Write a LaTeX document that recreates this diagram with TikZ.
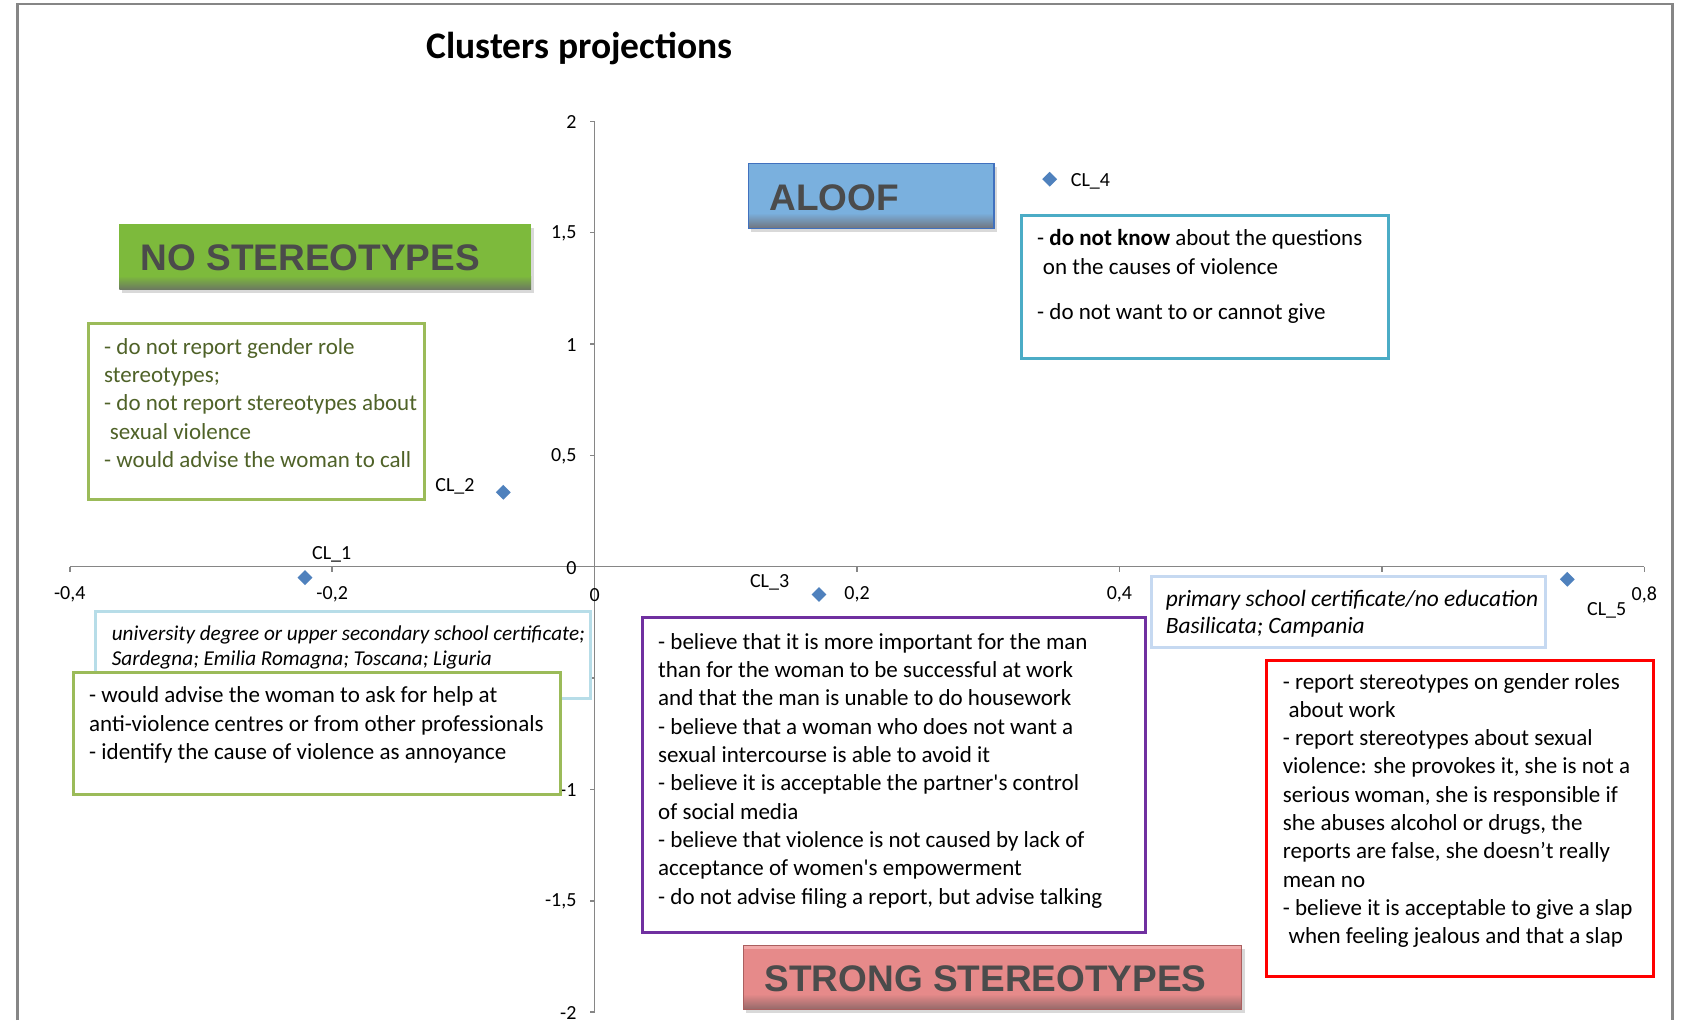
\documentclass[tikz,border=0pt]{standalone}
\usepackage{fontspec}
\setmainfont{Carlito}
\newfontfamily\bannerfont{Liberation Sans}
\usetikzlibrary{shapes.geometric}
\usetikzlibrary{shadows}

\definecolor{axisgray}{RGB}{134,134,134}
\definecolor{clblue}{RGB}{79,129,189}
\definecolor{boxgreen}{RGB}{155,187,89}
\definecolor{textolive}{RGB}{79,98,40}
\definecolor{boxpurple}{RGB}{112,48,160}
\definecolor{boxteal}{RGB}{75,172,198}
\definecolor{boxlightblue}{RGB}{183,221,232}
\definecolor{boxpaleblue}{RGB}{198,217,241}
\definecolor{bangreen}{RGB}{125,186,60}
\definecolor{bangreendark}{RGB}{108,122,96}
\definecolor{banblue}{RGB}{122,176,222}
\definecolor{banblueborder}{RGB}{65,113,190}
\definecolor{banbluedark}{RGB}{112,116,126}
\definecolor{banred}{RGB}{230,138,138}
\definecolor{banredlight}{RGB}{242,170,170}
\definecolor{banreddark}{RGB}{150,106,106}
\definecolor{banredborder}{RGB}{170,95,95}
\definecolor{bantext}{RGB}{75,75,75}

\begin{document}
\begin{tikzpicture}[x=1pt,y=-1pt,
    axisline/.style={axisgray, line width=1.5pt},
    ticklabel/.style={inner sep=0pt, font=\fontsize{20}{24}\selectfont},
    clpoint/.style={diamond, fill=clblue, inner sep=0pt, minimum size=15pt},
    cllabel/.style={inner sep=0pt, font=\fontsize{20}{24}\selectfont},
    notebox/.style={fill=white, line width=3pt},
    notetext/.style={anchor=north west, inner sep=0pt, align=left, font=\fontsize{23}{28.3}\selectfont},
    placetext/.style={anchor=north west, inner sep=0pt, align=left, font=\itshape\fontsize{21.2}{24.7}\selectfont},
    bannerbody/.style={drop shadow={shadow xshift=3pt, shadow yshift=-4pt, opacity=0.3}},
    bannertext/.style={anchor=base west, inner sep=0pt, text=bantext, font=\bannerfont\bfseries\fontsize{37}{44}\selectfont}]
    \useasboundingbox (0,0) rectangle (1683,1020);

    % frame of the chart
    \draw[axisgray, line width=2.5pt] (17.7,1020) -- (17.7,4) -- (1672.7,4) -- (1672.7,1020);
    \node[font=\bfseries\fontsize{37.5}{45}\selectfont] (title) at (579.6,48.3) {Clusters projections};

    % axes in data units
    \begin{scope}[shift={(594.6,566.7)}, x=1312.1pt, y=222.7pt]
        \draw[axisline] (-0.4,0) -- (0.8,0);
        \draw[axisline] (0,-2) -- (0,2);
        \foreach \u/\lab [count=\i] in {-0.4/{-0,4}, -0.2/{-0,2}, 0/0, 0.2/{0,2}, 0.4/{0,4}, 0.6/{0,6}, 0.8/{0,8}} {
            \draw[axisline] (\u,0) -- ++(0,-5pt);
            \node[ticklabel, yshift=-28pt] (xtick\i) at (\u,0) {\lab};
        }
        \foreach \v/\lab [count=\i] in {-2/{-2}, -1.5/{-1,5}, -1/{-1}, -0.5/{-0,5}, 0/0, 0.5/{0,5}, 1/1, 1.5/{1,5}, 2/2} {
            \draw[axisline] (0,\v) -- ++(-5pt,0);
            \node[ticklabel, anchor=east, xshift=-18pt, yshift=-1pt] (ytick\i) at (0,\v) {\lab};
        }
        \node[clpoint] (cl1) at (-0.2207,-0.049) {};
        \node[clpoint] (cl2) at (-0.0696,0.334) {};
        \node[clpoint] (cl3) at (0.171,-0.125) {};
        \node[clpoint] (cl4) at (0.3468,1.740) {};
        \node[clpoint] (cl5) at (0.7413,-0.0566) {};
    \end{scope}

    \node[cllabel] (cl1lab) at (331.7,554.4) {CL\_1};
    \node[cllabel] (cl2lab) at (455,486.8) {CL\_2};
    \node[cllabel] (cl3lab) at (769.6,582.8) {CL\_3};
    \node[cllabel] (cl4lab) at (1090.5,181.3) {CL\_4};
    \node[cllabel] (cl5lab) at (1606.7,610) {CL\_5};

    % cluster descriptions
    \draw[notebox, draw=boxgreen] (88,323) rectangle (424,499);
    \node[notetext, text=textolive] (nostereo) at (104,338) {- do not report gender role\\stereotypes;\\- do not report stereotypes about\\\hspace{0.25em}sexual violence\\- would advise the woman to call};

    \draw[notebox, draw=boxlightblue] (95.5,611) rectangle (590,698);
    \node[placetext] (cl1place) at (111.6,625.6) {university degree or upper secondary school certificate;\\Sardegna; Emilia Romagna; Toscana; Liguria};

    \draw[notebox, draw=boxgreen] (73,672) rectangle (560,794);
    \node[notetext] (cl1note) at (89,686.8) {- would advise the woman to ask for help at\\anti-violence centres or from other professionals\\- identify the cause of violence as annoyance};

    \draw[notebox, draw=boxpurple] (642,617) rectangle (1145,932);
    \node[notetext] (cl3note) at (658,633.2) {- believe that it is more important for the man\\than for the woman to be successful at work\\and that the man is unable to do housework\\- believe that a woman who does not want a\\sexual intercourse is able to avoid it\\- believe it is acceptable the partner\textquotesingle s control\\of social media\\- believe that violence is not caused by lack of\\acceptance of women\textquotesingle s empowerment\\- do not advise filing a report, but advise talking};

    \draw[notebox, draw=boxpaleblue] (1151,576) rectangle (1545,647);
    \node[placetext, font=\itshape\fontsize{23.4}{27.9}\selectfont] (cl5place) at (1165.6,589.6) {primary school certificate/no education\\Basilicata; Campania};

    \draw[notebox, draw=red] (1266.5,660) rectangle (1653,976);
    \node[notetext] (cl5note) at (1282.6,672.9) {- report stereotypes on gender roles\\\hspace{0.25em}about work\\- report stereotypes about sexual\\violence: she provokes it, she is not a\\serious woman, she is responsible if\\she abuses alcohol or drugs, the\\reports are false, she doesn’t really\\mean no\\- believe it is acceptable to give a slap\\\hspace{0.25em}when feeling jealous and that a slap};

    \draw[notebox, draw=boxteal] (1021,215) rectangle (1388,358);
    \node[notetext] (cl4note) at (1037,229.6) {- \textbf{do not know} about the questions\\\hspace{0.25em}on the causes of violence\\[17pt]- do not want to or cannot give};

    % banners
    \path[bannerbody, fill=bangreen] (119.3,224.3) rectangle (531,289);
    \shade[top color=bangreen, bottom color=bangreendark] (119.3,276) rectangle (531,289);
    \node[bannertext] (nobanner) at (140.6,270) {NO STEREOTYPES};

    \path[bannerbody, fill=banblue] (748.3,163.3) rectangle (994,228.3);
    \shade[top color=banblue, bottom color=banbluedark] (748.3,213) rectangle (994,228.3);
    \draw[banblueborder, line width=1.5pt] (748.3,163.3) rectangle (994,228.3);
    \node[bannertext] (aloofbanner) at (769.3,210) {ALOOF};

    \path[bannerbody, fill=banred] (743.3,945) rectangle (1241.7,1009);
    \shade[top color=banred, bottom color=banreddark] (743.3,994) rectangle (1241.7,1009);
    \fill[banredlight] (743.3,945) rectangle (1241.7,949);
    \draw[banredborder, line width=1pt] (743.3,945) rectangle (1241.7,1009);
    \node[bannertext] (strongbanner) at (764.3,991) {STRONG STEREOTYPES};
\end{tikzpicture}
\end{document}
